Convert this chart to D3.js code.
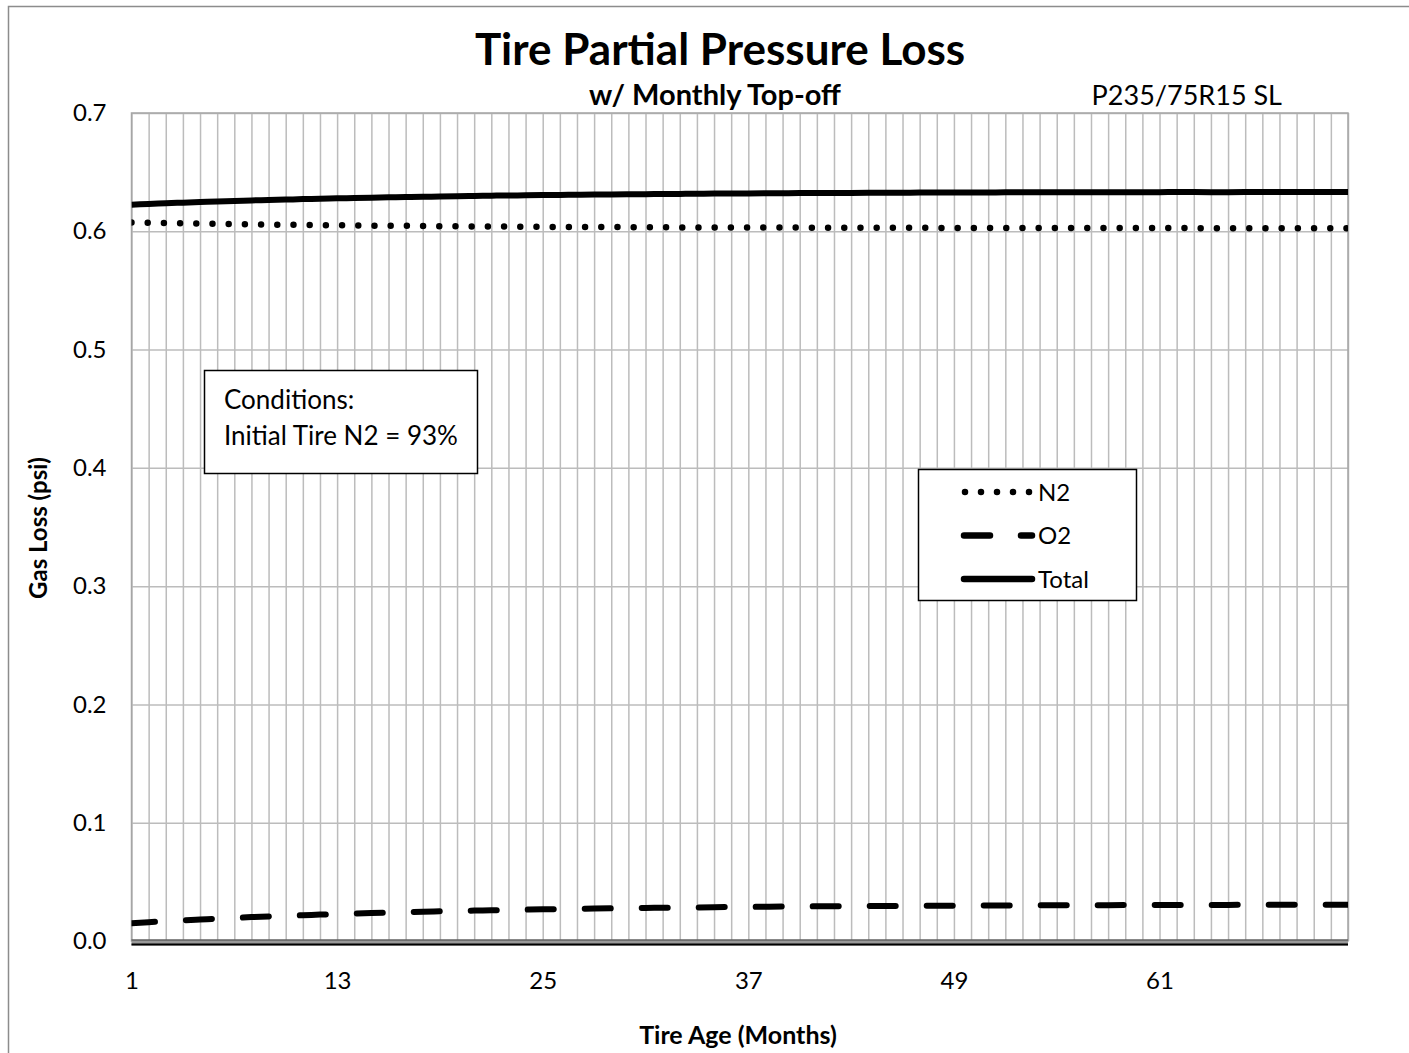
<!DOCTYPE html>
<html>
<head>
<meta charset="utf-8">
<script src="https://cdn.jsdelivr.net/npm/d3@7"></script>
<style>
  body { margin: 0; background: #fff; }
  svg { font-family: Lato, "Open Sans", sans-serif; }
</style>
</head>
<body>
<div id="chart"></div>
<script>
////////////////// Data ////////////////////
var months = [1,2,3,4,5,6,7,8,9,10,11,12,13,14,15,16,17,18,19,20,21,22,23,24,
  25,26,27,28,29,30,31,32,33,34,35,36,37,38,39,40,41,42,43,44,45,46,47,48,
  49,50,51,52,53,54,55,56,57,58,59,60,61,62,63,64,65,66,67,68,69,70,71,72];

var n2Loss = [0.6075,0.6072,0.6070,0.6067,0.6065,0.6063,0.6061,0.6059,0.6057,0.6055,0.6054,0.6052,
  0.6051,0.6049,0.6048,0.6047,0.6046,0.6044,0.6043,0.6042,0.6041,0.6041,0.6040,0.6039,
  0.6038,0.6037,0.6037,0.6036,0.6036,0.6035,0.6034,0.6034,0.6033,0.6033,0.6033,0.6032,
  0.6032,0.6031,0.6031,0.6031,0.6030,0.6030,0.6030,0.6030,0.6029,0.6029,0.6029,0.6029,
  0.6028,0.6028,0.6028,0.6028,0.6028,0.6028,0.6027,0.6027,0.6027,0.6027,0.6027,0.6027,
  0.6027,0.6027,0.6027,0.6026,0.6026,0.6026,0.6026,0.6026,0.6026,0.6026,0.6026,0.6026];

var o2Loss = [0.0150,0.0159,0.0167,0.0175,0.0182,0.0189,0.0195,0.0202,0.0207,0.0213,0.0218,0.0223,
  0.0228,0.0232,0.0236,0.0240,0.0244,0.0248,0.0251,0.0254,0.0257,0.0260,0.0263,0.0265,
  0.0268,0.0270,0.0272,0.0274,0.0276,0.0278,0.0280,0.0281,0.0283,0.0284,0.0286,0.0287,
  0.0288,0.0290,0.0291,0.0292,0.0293,0.0294,0.0294,0.0295,0.0296,0.0297,0.0298,0.0298,
  0.0299,0.0299,0.0300,0.0301,0.0301,0.0302,0.0302,0.0302,0.0303,0.0303,0.0304,0.0304,
  0.0304,0.0305,0.0305,0.0305,0.0305,0.0306,0.0306,0.0306,0.0306,0.0307,0.0307,0.0307];

var totalLoss = [0.6225,0.6231,0.6237,0.6242,0.6247,0.6252,0.6256,0.6261,0.6264,0.6268,0.6272,0.6275,
  0.6279,0.6281,0.6284,0.6287,0.6290,0.6292,0.6294,0.6296,0.6298,0.6301,0.6303,0.6304,
  0.6306,0.6307,0.6309,0.6310,0.6312,0.6313,0.6314,0.6315,0.6316,0.6317,0.6319,0.6319,
  0.6320,0.6321,0.6322,0.6323,0.6323,0.6324,0.6324,0.6325,0.6325,0.6326,0.6327,0.6327,
  0.6327,0.6327,0.6328,0.6329,0.6329,0.6330,0.6329,0.6329,0.6330,0.6330,0.6331,0.6331,
  0.6331,0.6332,0.6332,0.6331,0.6331,0.6332,0.6332,0.6332,0.6332,0.6333,0.6333,0.6333];

var xTickLabels = [1, 13, 25, 37, 49, 61];
var yTicks = [0, 0.1, 0.2, 0.3, 0.4, 0.5, 0.6, 0.7];
var seriesNames = ["N2", "O2", "Total"];
var conditionLines = ["Conditions:", "Initial Tire N2 = 93%"];

////////////////// Chart Parameters ////////////////////
var svgWidth = 1409;
var svgHeight = 1053;
var plot = { left: 131.5, right: 1348, top: 113, bottom: 941 };

var svg = d3.select("#chart").append("svg")
  .attr("width", svgWidth)
  .attr("height", svgHeight);

// outer chart frame (only left and top edges are visible)
svg.append("path")
  .attr("d", "M8.5," + svgHeight + " V6.5 H" + svgWidth)
  .attr("fill", "none")
  .attr("stroke", "#8c8c8c")
  .attr("stroke-width", 1.5);

////////// Scales //////////
var x = d3.scalePoint()
  .domain(months)
  .range([plot.left, plot.right]);

var y = d3.scaleLinear()
  .domain([0, 0.7])
  .range([plot.bottom, plot.top]);

var g = svg.append("g");

////////// Gridlines //////////
g.append("g")
  .attr("transform", "translate(0," + plot.bottom + ")")
  .call(d3.axisBottom(x).tickValues(months).tickSize(-(plot.bottom - plot.top)).tickFormat(""))
  .call(s => s.select(".domain").remove())
  .selectAll("line")
  .attr("stroke", "#bcbcbc")
  .attr("stroke-width", 1.5);

g.append("g")
  .attr("transform", "translate(" + plot.left + ",0)")
  .call(d3.axisLeft(y).tickValues(yTicks).tickSize(-(plot.right - plot.left)).tickFormat(""))
  .call(s => s.select(".domain").remove())
  .selectAll("line")
  .attr("stroke", "#bcbcbc")
  .attr("stroke-width", 1.5);

// plot area border
g.append("rect")
  .attr("x", plot.left)
  .attr("y", plot.top)
  .attr("width", plot.right - plot.left)
  .attr("height", plot.bottom - plot.top)
  .attr("fill", "none")
  .attr("stroke", "#a6a6a6")
  .attr("stroke-width", 1.5);

// zero baseline (thick grey band with dark edges)
g.append("line")
  .attr("x1", plot.left).attr("x2", plot.right)
  .attr("y1", y(0) + 1.5).attr("y2", y(0) + 1.5)
  .attr("stroke", "#999").attr("stroke-width", 6);
g.append("line")
  .attr("x1", plot.left).attr("x2", plot.right)
  .attr("y1", y(0) - 1).attr("y2", y(0) - 1)
  .attr("stroke", "#444").attr("stroke-width", 1.2);
g.append("line")
  .attr("x1", plot.left).attr("x2", plot.right)
  .attr("y1", y(0) + 3.5).attr("y2", y(0) + 3.5)
  .attr("stroke", "#000").attr("stroke-width", 2);

////////// Axes labels //////////
var yAxis = g.append("g")
  .attr("transform", "translate(" + plot.left + ",0)")
  .call(d3.axisLeft(y).tickValues(yTicks).tickSize(0).tickPadding(25).tickFormat(d3.format(".1f")));
yAxis.select(".domain").remove();
yAxis.selectAll("text")
  .attr("font-family", "Lato, sans-serif")
  .attr("font-size", 24)
  .attr("fill", "#000");

var xAxis = g.append("g")
  .attr("transform", "translate(0," + plot.bottom + ")")
  .call(d3.axisBottom(x).tickValues(xTickLabels).tickSize(0).tickPadding(31));
xAxis.select(".domain").remove();
xAxis.selectAll("text")
  .attr("font-family", "Lato, sans-serif")
  .attr("font-size", 24)
  .attr("fill", "#000");

////////// Lines //////////
var defs = svg.append("defs");
defs.append("clipPath").attr("id", "plotClip")
  .append("rect")
  .attr("x", plot.left).attr("y", plot.top - 10)
  .attr("width", plot.right - plot.left).attr("height", plot.bottom - plot.top + 20);

var line = d3.line()
  .x((d, i) => x(months[i]))
  .y(d => y(d))
  .curve(d3.curveMonotoneX);

var lines = g.append("g").attr("clip-path", "url(#plotClip)");

lines.append("path")
  .datum(n2Loss)
  .attr("d", line)
  .attr("fill", "none")
  .attr("stroke", "#000")
  .attr("stroke-width", 6.5)
  .attr("stroke-linecap", "round")
  .attr("stroke-dasharray", "0,16.2");

lines.append("path")
  .datum(o2Loss)
  .attr("d", line)
  .attr("fill", "none")
  .attr("stroke", "#000")
  .attr("stroke-width", 6)
  .attr("stroke-linecap", "round")
  .attr("stroke-dasharray", "26,31")
  .attr("stroke-dashoffset", 2.5);

lines.append("path")
  .datum(totalLoss)
  .attr("d", line)
  .attr("fill", "none")
  .attr("stroke", "#000")
  .attr("stroke-width", 6);

////////// Titles //////////
svg.append("text")
  .attr("x", 720)
  .attr("y", 65)
  .attr("text-anchor", "middle")
  .attr("font-size", 44)
  .attr("font-weight", "bold")
  .text("Tire Partial Pressure Loss");

svg.append("text")
  .attr("x", 715)
  .attr("y", 105)
  .attr("text-anchor", "middle")
  .attr("font-size", 29)
  .attr("font-weight", "bold")
  .text("w/ Monthly Top-off");

svg.append("text")
  .attr("x", 1282)
  .attr("y", 105)
  .attr("text-anchor", "end")
  .attr("font-size", 27)
  .text("P235/75R15 SL");

svg.append("text")
  .attr("x", 738)
  .attr("y", 1044)
  .attr("text-anchor", "middle")
  .attr("font-size", 25)
  .attr("font-weight", "bold")
  .text("Tire Age (Months)");

svg.append("text")
  .attr("transform", "translate(47,528) rotate(-90)")
  .attr("text-anchor", "middle")
  .attr("font-size", 24)
  .attr("font-weight", "bold")
  .text("Gas Loss (psi)");

////////// Conditions box //////////
var cond = svg.append("g");
cond.append("rect")
  .attr("x", 204.5).attr("y", 370.5)
  .attr("width", 273).attr("height", 103)
  .attr("fill", "#fff")
  .attr("stroke", "#000")
  .attr("stroke-width", 1.5);
cond.selectAll("text")
  .data(conditionLines)
  .enter()
  .append("text")
  .attr("x", 224)
  .attr("y", (d, i) => 409 + i * 36)
  .attr("font-size", 26)
  .text(d => d);

////////// Legend //////////
var legend = svg.append("g");
legend.append("rect")
  .attr("x", 918.5).attr("y", 469.5)
  .attr("width", 218).attr("height", 131)
  .attr("fill", "#fff")
  .attr("stroke", "#000")
  .attr("stroke-width", 1.5);

var legendStyles = [
  { dash: "0,16", x1: 965, x2: 1029.5 },
  { dash: "26,31", x1: 964, x2: 1032 },
  { dash: null, x1: 964, x2: 1032 }
];

var items = legend.selectAll("g.item")
  .data(seriesNames)
  .enter()
  .append("g")
  .attr("class", "item")
  .attr("transform", (d, i) => "translate(0," + (492 + i * 43.5) + ")");

items.append("line")
  .attr("x1", (d, i) => legendStyles[i].x1)
  .attr("x2", (d, i) => legendStyles[i].x2)
  .attr("y1", 0).attr("y2", 0)
  .attr("stroke", "#000")
  .attr("stroke-width", 6.5)
  .attr("stroke-linecap", "round")
  .attr("stroke-dasharray", (d, i) => legendStyles[i].dash);

items.append("text")
  .attr("x", 1038)
  .attr("y", 8.5)
  .attr("font-size", 24)
  .text(d => d);
</script>
</body>
</html>
